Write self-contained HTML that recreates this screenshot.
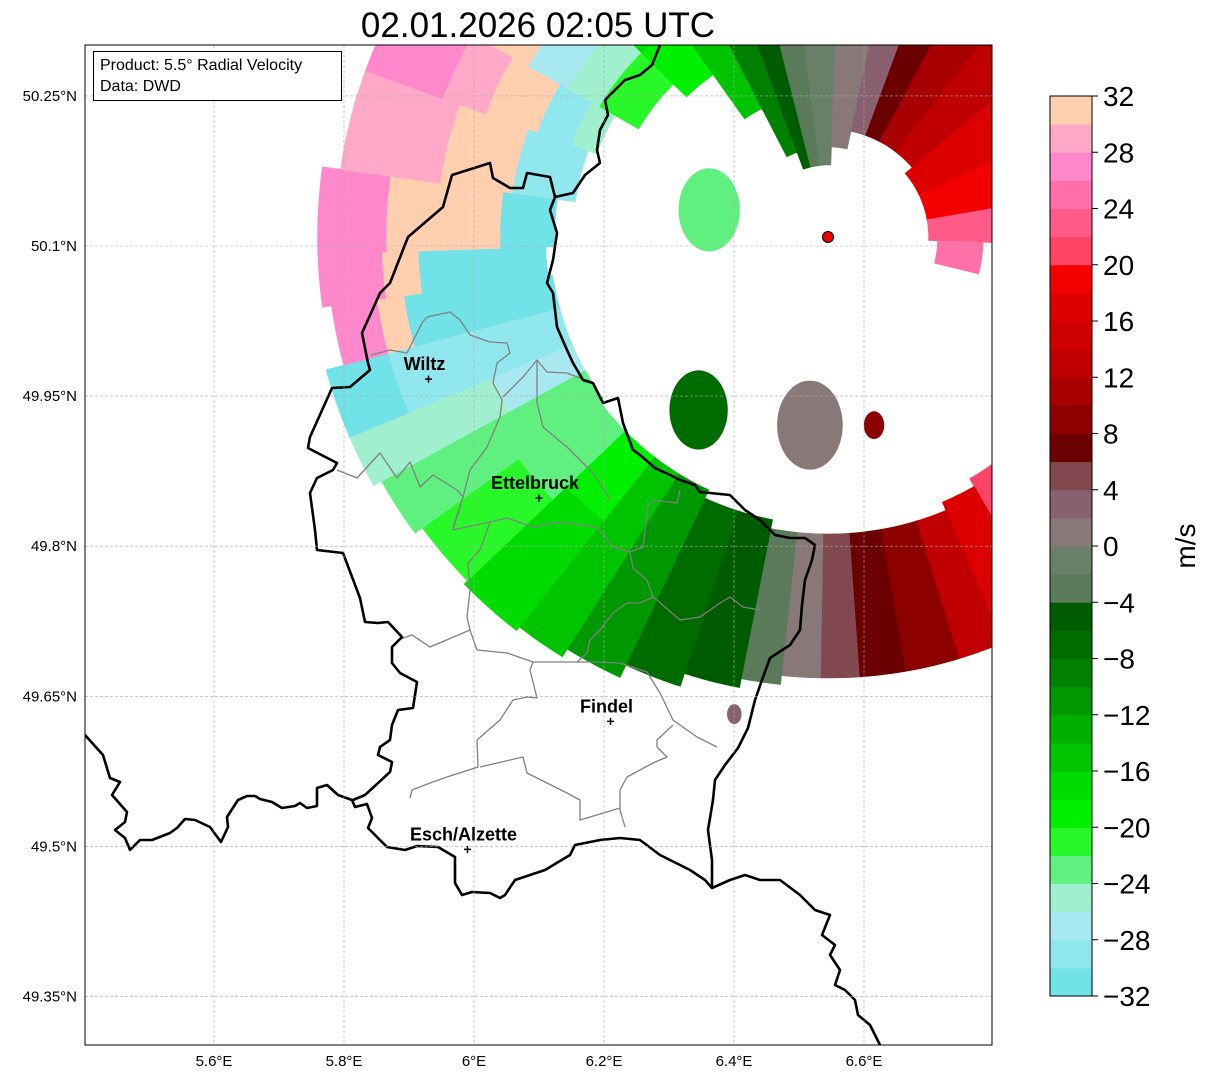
<!DOCTYPE html>
<html><head><meta charset="utf-8">
<style>
html,body{margin:0;padding:0;background:#fff;}
svg{display:block;font-family:"Liberation Sans","DejaVu Sans",sans-serif;}
</style></head>
<body>
<svg id="chart" width="1207" height="1081" viewBox="0 0 1207 1081" xmlns="http://www.w3.org/2000/svg">
  <defs>
    <clipPath id="mapclip"><rect x="85" y="45" width="907" height="1000"/></clipPath>
  </defs>
  <text x="538" y="37" font-size="35" text-anchor="middle" fill="#000">02.01.2026 02:05 UTC</text>
  <rect x="85" y="45" width="907" height="1000" fill="#fff"/>
  <g id="echoes" clip-path="url(#mapclip)"></g>
  <g id="borders" clip-path="url(#mapclip)"></g>
  <g id="grid"></g>
  <g id="cities"></g>
  <circle cx="828" cy="237" r="5.5" fill="#f00000" stroke="#000" stroke-width="1"/>
  <rect x="85" y="45" width="907" height="1000" fill="none" stroke="#000" stroke-width="1"/>
  <g>
    <rect x="93.5" y="51.5" width="248" height="49" fill="#fff" stroke="#000" stroke-width="1"/>
    <text x="100" y="70" font-size="16">Product: 5.5° Radial Velocity</text>
    <text x="100" y="91" font-size="16">Data: DWD</text>
  </g>
  <g id="axes"></g>
  <g id="colorbar"></g>
  <text x="1195" y="546" font-size="28" text-anchor="middle" transform="rotate(-90 1195 546)">m/s</text>
</svg>
<script>
// ---- data ----
const lonTicks = [5.6, 5.8, 6.0, 6.2, 6.4, 6.6];
const lonLabels = ["5.6°E","5.8°E","6°E","6.2°E","6.4°E","6.6°E"];
const latTicks = [50.25, 50.1, 49.95, 49.8, 49.65, 49.5, 49.35];
const latLabels = ["50.25°N","50.1°N","49.95°N","49.8°N","49.65°N","49.5°N","49.35°N"];
const cbTicks = [-32,-28,-24,-20,-16,-12,-8,-4,0,4,8,12,16,20,24,28,32];
const cbColors = ["#70e2e8","#90e8ee","#a8e8f0","#a0f0d0","#60f080","#28f828","#00f000","#00dc00","#00c400","#00b000","#009800","#008000","#006c00","#005c00","#5a7a5a","#688068","#887878","#886070","#824850","#6a0000","#8c0000","#a80000","#c00000","#d00000","#dd0000","#f50000","#ff4466","#ff5a88","#ff70a8","#ff88cc","#ffa8c8","#ffcfb0"];
const cityNames = ["Wiltz","Ettelbruck","Findel","Esch/Alzette"];
const cityLon = [5.93, 6.10, 6.21, 5.99];
const cityLat = [49.967, 49.848, 49.625, 49.497];
const radarLon = 6.545, radarLat = 50.109;
// radar echo sectors: azimuth start/end (deg), range start/end (km), velocity (m/s)
const secAz0 = [143,143,150,157,163,170,176,181,186,191,198,205,212,218,218,226,226,234,234,241,241,247,247,255,255,255,262,262,262,268,268,268,278,278,278,290,290,290,290,290,300,300,300,300,315,315,325,333,340,346,353,2,12,20,28,38,50,65,80,92];
const secAz1 = [150,150,157,163,170,176,181,186,191,198,205,212,218,226,226,234,234,241,241,247,247,255,255,262,262,262,268,268,268,278,278,278,290,290,290,300,300,300,300,300,315,315,315,315,325,325,333,340,346,353,362,12,20,28,38,50,65,80,92,104];
const secR0 = [31,40,32,33,33,33,33,33,33,32,32,31,31,31,40,31,42,30.5,40,30.5,40,30.5,50,30.5,47,50,31,45,49,30,36,48.5,28,35,43,27,30,34,40,45,24,29,33,38,22,29,16,10,8,8,8,10,12,12,12,12,11,11,11,12];
const secR1 = [40,50,50,49,49,49,49,49,50,51,52.5,54,55,40,55.5,42,55,40,56,40,57,50,57,47,50,55,45,49,56,36,48.5,56,35,43,54,30,34,40,45,54,29,33,38,44,29,34,30,28,28,28,28,28,28,28,28,28,28,26,22,17];
const secVel = [21,17,17,13,9,7,5,1,-3,-5,-7,-11,-15,-19,-17,-23,-21,-23,-23,-27,-26,-29,-31,-31,30,27,-31,30,27,-31,31,27,-30,31,29,-25,-30,31,29,27,-22,-25,-27,31,-20,-17,-15,-9,-5,-3,-1,1,3,7,11,13,17,19,23,25];
// isolated echo clusters: azimuth (deg), range (km), size (km), velocity
const blobAz = [283, 216.5, 185.5, 166.5, 191];
const blobR = [13.4, 23.9, 21, 21.5, 54];
const blobSize = [4.2, 4.0, 4.5, 1.4, 1.0];
const blobVel = [-23, -7, 1, 9, 3];

// ---- scales ----
const lonToX = lon => 474 + (lon - 6.0) * 650;
const latToY = lat => 246 - (lat - 50.1) * 1000.7;
const cbY = v => 996 - (v + 32) / 64 * 900;
const pxKmX = 9.12, pxKmY = 9.0;
const rcx = lonToX(radarLon), rcy = latToY(radarLat);
function polar(az, km){ const a = az*Math.PI/180; return [rcx + km*pxKmX*Math.sin(a), rcy - km*pxKmY*Math.cos(a)]; }
function colorFor(v){ let i = Math.floor((v + 32) / 2); i = Math.max(0, Math.min(31, i)); return cbColors[i]; }
const NS = "http://www.w3.org/2000/svg";
function mk(tag, attrs, parent){ const e = document.createElementNS(NS, tag); for (const k in attrs) e.setAttribute(k, attrs[k]); parent.appendChild(e); return e; }

// ---- echoes ----
const eg = document.getElementById('echoes');
for (let i = 0; i < secVel.length; i++) {
  const a0 = secAz0[i], a1 = secAz1[i], r0 = secR0[i], r1 = secR1[i];
  let pts = [];
  for (let a = a0; a <= a1 + 1e-6; a += 1) pts.push(polar(a, r1));
  for (let a = a1; a >= a0 - 1e-6; a -= 1) pts.push(polar(a, r0));
  const d = "M" + pts.map(p => p[0].toFixed(1) + "," + p[1].toFixed(1)).join("L") + "Z";
  const p = mk('path', {d: d, fill: colorFor(secVel[i]), stroke: colorFor(secVel[i]), 'stroke-width': 0.6}, eg);
  
  
}
for (let i = 0; i < blobVel.length; i++) {
  const c = polar(blobAz[i], blobR[i]);
  const e = mk('ellipse', {cx: c[0], cy: c[1], rx: blobSize[i]*pxKmX*0.8, ry: blobSize[i]*pxKmY*1.1, fill: colorFor(blobVel[i])}, eg);
  
  
}

// ---- borders ----
const bg = document.getElementById('borders');
const grayLines = [
 [[337,470],[357,478],[380,453],[397,478],[410,462],[420,487],[433,475],[457,490],[463,497],[453,530]],
 [[371,355],[390,350],[407,353],[422,323],[427,317],[450,312],[460,320],[470,335],[490,342],[507,343],[510,353],[497,363],[493,383],[502,400],[500,417],[487,447],[470,470],[463,497],[453,527]],
 [[503,397],[523,377],[537,360],[547,372],[567,373],[585,380]],
 [[537,360],[537,403],[543,427],[567,447],[590,470],[600,483],[610,500]],
 [[453,530],[490,522],[507,518],[533,527],[560,522],[597,527],[613,547],[630,552],[643,547],[648,507],[653,500],[677,503],[680,490]],
 [[630,552],[633,568],[647,580],[653,597],[640,603],[627,603],[613,613],[600,630],[590,640],[587,653],[577,662],[533,662],[530,670],[537,698],[527,697],[513,700],[500,720],[477,740],[478,767],[447,777],[430,783],[412,790],[410,798]],
 [[490,522],[480,550],[468,563],[470,590],[467,617],[470,630],[430,647],[412,635],[398,640]],
 [[470,630],[477,650],[507,653],[533,662]],
 [[653,597],[657,600],[680,620],[700,617],[720,603],[730,597],[743,607],[760,610]],
 [[577,662],[597,662],[620,663],[647,672],[660,693],[673,720],[680,725],[697,737],[717,747]],
 [[673,725],[657,740],[657,747],[667,757],[653,763],[627,777],[620,790],[620,810],[625,827]],
 [[620,808],[580,820],[580,800],[567,793],[527,773],[523,757],[480,767]]
];
const blackLines = [
 [[85,735],[103,755],[110,778],[120,782],[112,795],[127,812],[125,822],[115,830],[125,838],[130,850],[140,840],[152,840],[170,833],[177,828],[185,819],[195,820],[210,827],[221,842],[228,827],[227,817],[238,800],[247,796],[255,796],[260,799],[272,802],[282,808],[295,806],[300,803],[307,808],[317,806],[317,788],[327,785],[338,795],[352,800],[355,807],[367,804],[372,818],[368,828],[387,847],[405,850],[417,846],[438,847],[455,857],[455,883],[462,895],[472,892],[490,893],[500,898],[505,895],[515,880],[545,870],[570,855],[575,845],[600,840],[620,838],[640,840],[660,855],[690,870],[705,880],[712,888],[730,880],[745,875],[760,880],[780,880],[800,895],[815,910],[830,915],[822,935],[835,945],[830,955],[840,970],[835,985],[845,990],[855,1000],[858,1015],[870,1025],[880,1045]],
 [[353,800],[365,795],[390,772],[392,762],[378,755],[380,747],[390,740],[392,725],[398,710],[413,708],[417,682],[400,673],[392,663],[392,647],[402,637],[388,622],[378,623],[365,622],[360,598],[343,553],[317,550],[315,530],[310,493],[317,478],[333,470],[337,463],[308,448],[310,437],[332,388],[350,387],[370,370],[368,363],[362,333],[380,293],[390,283],[408,237],[443,207],[452,175],[490,163],[493,178],[510,188],[523,188],[527,173],[550,177],[555,197],[550,210],[557,233],[553,260],[547,283],[553,293],[557,327],[567,350],[573,363],[583,380],[593,383],[603,403],[618,398],[623,423],[633,450],[640,455],[655,468],[670,475],[680,480],[695,485],[700,492],[730,495],[745,510],[760,520],[775,535],[790,538],[805,538],[815,545],[812,560],[805,580],[802,605],[800,630],[790,645],[770,658],[762,680],[755,700],[748,728],[738,748],[725,765],[715,780],[713,800],[708,830],[712,860],[712,888]],
 [[555,197],[573,193],[585,175],[600,163],[597,150],[600,130],[608,115],[605,100],[615,90],[625,80],[640,75],[652,65],[660,45]]
];
grayLines.forEach(l => {
  const e = mk('polyline', {points: l.map(p => p.join(",")).join(" "), fill: "none", stroke: "#808080", 'stroke-width': 1.3, 'stroke-linejoin': 'round'}, bg);
  
  
});
blackLines.forEach(l => {
  const e = mk('polyline', {points: l.map(p => p.join(",")).join(" "), fill: "none", stroke: "#000", 'stroke-width': 2.6, 'stroke-linejoin': 'round'}, bg);
  
  
});

// ---- grid & axes ----
const gg = document.getElementById('grid'), ag = document.getElementById('axes');
lonTicks.forEach((lon, i) => {
  const x = lonToX(lon);
  const g = mk('line', {x1: x, y1: 45, x2: x, y2: 1045, stroke: "#aaa", 'stroke-width': 0.6, 'stroke-dasharray': "3,2"}, gg);
  
  
  const t = mk('text', {x: x, y: 1066, 'font-size': 15, 'text-anchor': 'middle'}, ag);
  t.textContent = lonLabels[i];
  
  
});
latTicks.forEach((lat, i) => {
  const y = latToY(lat);
  const g = mk('line', {x1: 85, y1: y, x2: 992, y2: y, stroke: "#aaa", 'stroke-width': 0.6, 'stroke-dasharray': "3,2"}, gg);
  
  
  const t = mk('text', {x: 77, y: y + 5, 'font-size': 15, 'text-anchor': 'end'}, ag);
  t.textContent = latLabels[i];
  
  
});

// ---- cities ----
const cg = document.getElementById('cities');
cityNames.forEach((n, i) => {
  const x = lonToX(cityLon[i]), y = latToY(cityLat[i]);
  const m = mk('path', {d: `M${x-3.5},${y}H${x+3.5}M${x},${y-3.5}V${y+3.5}`, stroke: "#000", 'stroke-width': 1.5}, cg);
  
  
  const t = mk('text', {x: x - 4, y: y - 9, 'font-size': 18, 'font-weight': 'bold', 'text-anchor': 'middle'}, cg);
  t.textContent = n;
  
  
});

// ---- colorbar ----
const cb = document.getElementById('colorbar');
cbColors.forEach((c, i) => {
  const v0 = -32 + i*2, v1 = v0 + 2;
  const r = mk('rect', {x: 1050, y: cbY(v1), width: 42, height: cbY(v0) - cbY(v1) + 0.5, fill: c}, cb);
  
  
});
const fr = mk('rect', {x: 1050, y: cbY(32), width: 42, height: cbY(-32) - cbY(32), fill: "none", stroke: "#000", 'stroke-width': 1}, cb);


cbTicks.forEach(v => {
  const y = cbY(v);
  const l = mk('line', {x1: 1092, y1: y, x2: 1098, y2: y, stroke: "#000", 'stroke-width': 1}, cb);
  
  
  const t = mk('text', {x: 1103, y: y + 10, 'font-size': 28}, cb);
  t.textContent = (v < 0 ? "\u2212" + Math.abs(v) : String(v));
  
  
});
</script>
</body></html>
